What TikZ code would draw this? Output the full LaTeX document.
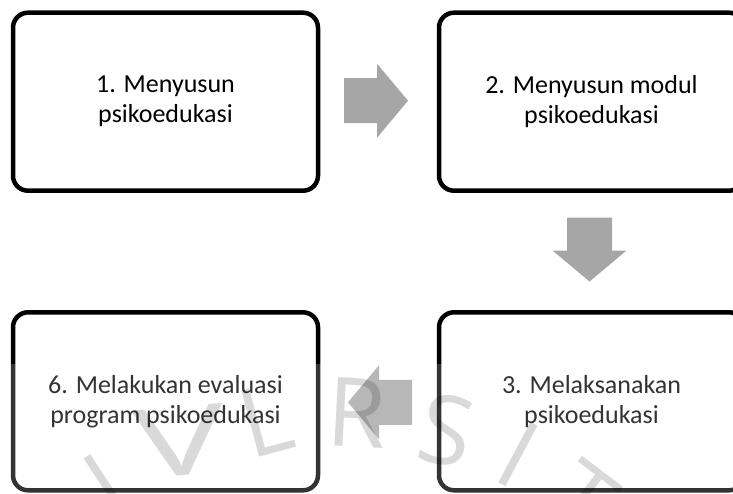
\documentclass[tikz,border=0pt]{standalone}
\usepackage{fontspec}
\setmainfont{Carlito}
\newfontfamily\markfont{Open Sans}
\usetikzlibrary{calc}
\definecolor{arrowgray}{RGB}{166,166,166}
\tikzset{
	stepbox/.style={draw, line width=4.5pt, rounded corners=15pt, minimum width=305pt, minimum height=178pt, align=center, font=\fontsize{26}{30}\selectfont},
	blockarrow/.style={fill=arrowgray},
	markletter/.style={inner sep=0pt, text=black, text opacity=0.15, font=\markfont\fontsize{96}{96}\selectfont}
}
\begin{document}
\begin{tikzpicture}[x=1pt,y=-1pt]
		\useasboundingbox (0,0) rectangle (733,493);
		\node [stepbox] (s1) at (165.5,101.7) {1. Menyusun\\psikoedukasi};
		\node [stepbox] (s2) at (591.5,101.7) {2. Menyusun modul\\psikoedukasi};
		\node [stepbox] (s3) at (591.5,401.3) {3. Melaksanakan\\psikoedukasi};
		\node [stepbox] (s6) at (165.5,401.3) {6. Melakukan evaluasi\\program psikoedukasi};
		\coordinate (a12) at ($(s1.east)!0.5!(s2.west)+(-2.5,-1)$);
		\coordinate (a23) at ($(s2.south)!0.5!(s3.north)+(-2,-2)$);
		\coordinate (a36) at ($(s3.west)!0.5!(s6.east)+(1.5,1)$);
		\fill [blockarrow][shift={(a12)}] (-32,-22.5) -- (1,-22.5) -- (1,-37) -- (32,0) -- (1,37) -- (1,22.5) -- (-32,22.5) -- cycle;
		\fill [blockarrow][shift={(a23)},rotate=-90] (-32,-22.5) -- (1,-22.5) -- (1,-37) -- (32,0) -- (1,37) -- (1,22.5) -- (-32,22.5) -- cycle;
		\fill [blockarrow][shift={(a36)},rotate=180] (-32,-22.5) -- (1,-22.5) -- (1,-37) -- (32,0) -- (1,37) -- (1,22.5) -- (-32,22.5) -- cycle;
		\fill [white][fill opacity=0.2] (0,364) rectangle (733,493);
		\foreach \ch/\x/\y/\rot/\sx [count=\i] in {I/106/485/33/1, V/180/441/5/1.6, L/266/420/15/1, R/357/413/-3/1, S/446/430/-12/1, I/518/455/-28/1, T/582/499/-37/1}
			\node [markletter][rotate=\rot,xscale=\sx] (m\i) at (\x,\y) {\ch};
	\end{tikzpicture}
\end{document}
